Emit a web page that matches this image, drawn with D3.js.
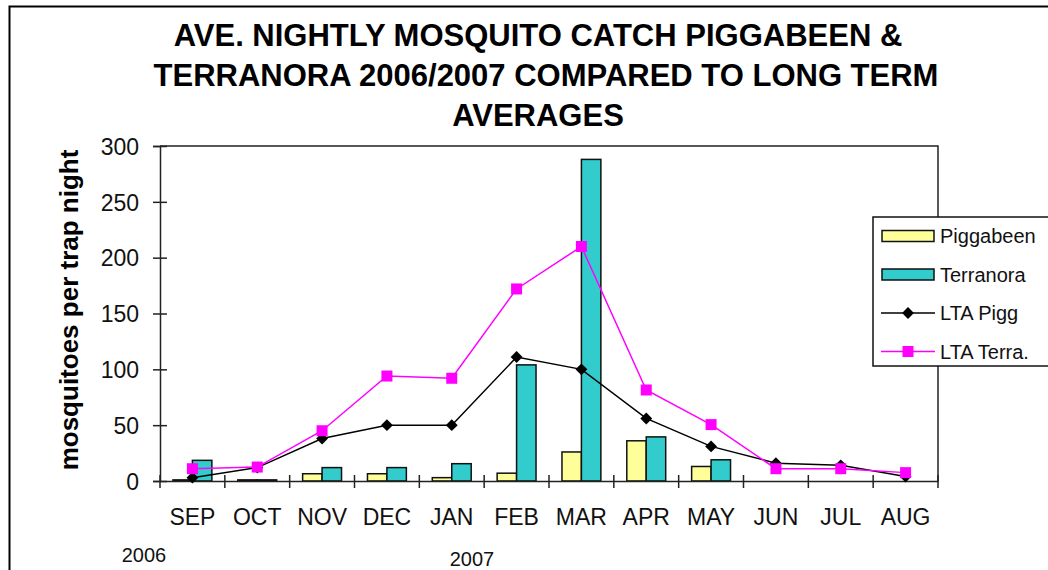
<!DOCTYPE html>
<html>
<head>
<meta charset="utf-8">
<script src="https://cdn.jsdelivr.net/npm/d3@7"></script>
<style>
  body { margin: 0; background: #fff; }
  svg { font-family: "Liberation Sans", Arial, sans-serif; }
</style>
</head>
<body>
<script>
// data
var months = ["SEP","OCT","NOV","DEC","JAN","FEB","MAR","APR","MAY","JUN","JUL","AUG"];
var piggabeen = [1, 1, 6.5, 6.5, 3, 7, 26, 36, 13, 0, 0, 0];
var terranora = [18.5, 1, 12, 12, 15.5, 104, 288, 39.5, 19, 0, 0, 0];
var ltaPigg = [3, 12, 38, 50, 50, 111, 100, 56, 31, 16, 14, 4];
var ltaTerra = [11, 12.5, 45, 94, 92, 172, 210, 81.5, 50.5, 11, 11, 7.5];
var yTicks = [0, 50, 100, 150, 200, 250, 300];
var barSeries = ["Piggabeen", "Terranora"];
var titleLines = ["AVE. NIGHTLY MOSQUITO CATCH PIGGABEEN &",
                  "TERRANORA 2006/2007 COMPARED TO LONG TERM",
                  "AVERAGES"];

var W = 1048, H = 570;
var plot = { left: 160, right: 938, top: 146, bottom: 481 };

var svg = d3.select("body").append("svg")
    .attr("width", W)
    .attr("height", H);

// outer chart border
svg.append("path")
    .attr("d", "M9.5," + H + "V6.5H" + W)
    .attr("fill", "none")
    .attr("stroke", "#000")
    .attr("stroke-width", 2);

// title
svg.append("g").selectAll("text")
    .data(titleLines)
    .enter().append("text")
    .attr("x", function(d, i) { return i == 1 ? 546 : 538; })
    .attr("y", function(d, i) { return 46 + i * 40; })
    .attr("text-anchor", "middle")
    .style("font-size", "31px")
    .style("font-weight", "bold")
    .text(function(d) { return d; });

// scales
var x0 = d3.scaleBand().domain(months).range([plot.left, plot.right]).padding(0);
var x1 = d3.scaleBand().domain(barSeries)
    .range([x0.bandwidth() * 0.2, x0.bandwidth() * 0.8]).padding(0);
var y = d3.scaleLinear().domain([0, 300]).range([plot.bottom, plot.top]);
var colors = { Piggabeen: "#ffff99", Terranora: "#33cccc" };

var g = svg.append("g");

// plot frame (top + right)
g.append("path")
    .attr("d", "M" + plot.left + "," + plot.top + "H" + plot.right + "V" + plot.bottom)
    .attr("fill", "none")
    .attr("stroke", "#222")
    .attr("stroke-width", 1.5);

// bars
var barData = [];
months.forEach(function(m, i) {
  barData.push({ month: m, series: "Piggabeen", value: piggabeen[i] });
  barData.push({ month: m, series: "Terranora", value: terranora[i] });
});
g.selectAll("rect.bar")
    .data(barData.filter(function(d) { return d.value > 0; }))
    .enter().append("rect")
    .attr("class", "bar")
    .attr("x", function(d) { return x0(d.month) + x1(d.series); })
    .attr("y", function(d) { return y(d.value); })
    .attr("width", x1.bandwidth())
    .attr("height", function(d) { return y(0) - y(d.value); })
    .attr("fill", function(d) { return colors[d.series]; })
    .attr("stroke", "#111")
    .attr("stroke-width", 1.5);

// y axis
var yAxis = d3.axisLeft(y).tickValues(yTicks).tickSize(7).tickPadding(14);
var ya = g.append("g")
    .attr("transform", "translate(" + plot.left + ",0)")
    .call(yAxis);
ya.select(".domain").attr("stroke", "#222").attr("stroke-width", 1.5);
ya.selectAll(".tick line").attr("x2", -7).attr("x1", 7).attr("stroke", "#222").attr("stroke-width", 1.5);
ya.selectAll(".tick text")
    .style("font-size", "23px")
    .style("font-family", "'Liberation Sans', Arial, sans-serif")
    .attr("fill", "#111")
    .attr("dy", "0.36em");

// x axis: labels in band centres, ticks at band edges
var xa = g.append("g")
    .attr("transform", "translate(0," + plot.bottom + ")")
    .call(d3.axisBottom(x0).tickSize(0).tickPadding(28));
xa.select(".domain").attr("stroke", "#222").attr("stroke-width", 1.5);
xa.selectAll(".tick text")
    .style("font-size", "23px")
    .style("font-family", "'Liberation Sans', Arial, sans-serif")
    .attr("fill", "#111");
var edges = months.map(function(m) { return x0(m); }).concat([x0.range()[1]]);
g.selectAll("line.xtick")
    .data(edges)
    .enter().append("line")
    .attr("class", "xtick")
    .attr("x1", function(d) { return d; })
    .attr("x2", function(d) { return d; })
    .attr("y1", plot.bottom - 6)
    .attr("y2", plot.bottom + 7)
    .attr("stroke", "#222")
    .attr("stroke-width", 1.5);

// year labels
svg.append("text").attr("x", 144).attr("y", 562).attr("text-anchor", "middle")
    .style("font-size", "20px").attr("fill", "#111").text("2006");
svg.append("text").attr("x", 472).attr("y", 566).attr("text-anchor", "middle")
    .style("font-size", "20px").attr("fill", "#111").text("2007");

// y axis title
svg.append("text")
    .attr("transform", "translate(78,310) rotate(-90)")
    .attr("text-anchor", "middle")
    .style("font-size", "26px")
    .style("font-weight", "bold")
    .text("mosquitoes per trap night");

// lines
var cx = function(d, i) { return x0(months[i]) + x0.bandwidth() / 2; };
var line = d3.line().x(cx).y(function(d) { return y(d); });

g.append("path")
    .datum(ltaPigg)
    .attr("d", line)
    .attr("fill", "none")
    .attr("stroke", "#000")
    .attr("stroke-width", 1.5);
g.selectAll("path.diamond")
    .data(ltaPigg)
    .enter().append("path")
    .attr("class", "diamond")
    .attr("d", d3.symbol(d3.symbolDiamond2, 90))
    .attr("transform", function(d, i) { return "translate(" + cx(d, i) + "," + y(d) + ")"; })
    .attr("fill", "#000");

g.append("path")
    .datum(ltaTerra)
    .attr("d", line)
    .attr("fill", "none")
    .attr("stroke", "#ff00ff")
    .attr("stroke-width", 1.5);
g.selectAll("rect.sq")
    .data(ltaTerra)
    .enter().append("rect")
    .attr("class", "sq")
    .attr("x", function(d, i) { return cx(d, i) - 5.5; })
    .attr("y", function(d) { return y(d) - 5.5; })
    .attr("width", 11)
    .attr("height", 11)
    .attr("fill", "#ff00ff");

// legend
var legend = svg.append("g").attr("transform", "translate(873,217)");
legend.append("rect")
    .attr("width", 190)
    .attr("height", 149)
    .attr("fill", "#fff")
    .attr("stroke", "#111")
    .attr("stroke-width", 1.5);
var legItems = [
  { name: "Piggabeen", type: "bar", color: colors.Piggabeen },
  { name: "Terranora", type: "bar", color: colors.Terranora },
  { name: "LTA Pigg", type: "line", color: "#000", mark: "diamond" },
  { name: "LTA Terra.", type: "line", color: "#ff00ff", mark: "square" }
];
var li = legend.selectAll("g.item")
    .data(legItems)
    .enter().append("g")
    .attr("class", "item")
    .attr("transform", function(d, i) { return "translate(0," + (19 + i * 38.5) + ")"; });
li.filter(function(d) { return d.type == "bar"; }).append("rect")
    .attr("x", 9).attr("y", -5.5).attr("width", 52).attr("height", 11)
    .attr("fill", function(d) { return d.color; })
    .attr("stroke", "#111").attr("stroke-width", 1.5);
li.filter(function(d) { return d.type == "line"; }).append("line")
    .attr("x1", 8).attr("x2", 62)
    .attr("stroke", function(d) { return d.color; })
    .attr("stroke-width", 1.5);
li.filter(function(d) { return d.mark == "diamond"; }).append("path")
    .attr("d", d3.symbol(d3.symbolDiamond2, 90))
    .attr("transform", "translate(35,0)")
    .attr("fill", "#000");
li.filter(function(d) { return d.mark == "square"; }).append("rect")
    .attr("x", 29.5).attr("y", -5.5).attr("width", 11).attr("height", 11)
    .attr("fill", "#ff00ff");
li.append("text")
    .attr("x", 67)
    .attr("y", 7)
    .style("font-size", "20px")
    .attr("fill", "#111")
    .text(function(d) { return d.name; });
</script>
</body>
</html>
